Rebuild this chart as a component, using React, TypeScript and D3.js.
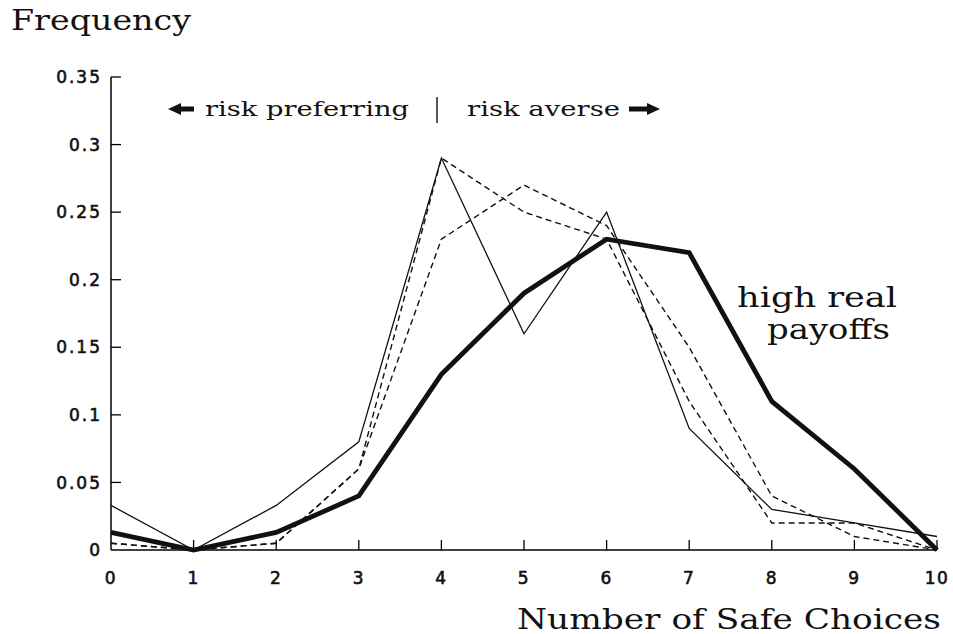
import React from "react"
import * as d3 from "d3"

// number of safe choices (0..10)
const choices = [0, 1, 2, 3, 4, 5, 6, 7, 8, 9, 10]

// frequencies
const highReal = [0.013, 0, 0.013, 0.04, 0.13, 0.19, 0.23, 0.22, 0.11, 0.06, 0]
const thinSolid = [0.033, 0, 0.033, 0.08, 0.29, 0.16, 0.25, 0.09, 0.03, 0.02, 0.01]
const dashedA = [0.005, 0, 0.005, 0.06, 0.29, 0.25, 0.23, 0.11, 0.02, 0.02, 0]
const dashedB = [0.005, 0, 0.005, 0.06, 0.23, 0.27, 0.24, 0.15, 0.04, 0.01, 0]

const yTicks = [0, 0.05, 0.1, 0.15, 0.2, 0.25, 0.3, 0.35]
const yTickLabels = ["0", "0.05", "0.1", "0.15", "0.2", "0.25", "0.3", "0.35"]

const W = 953
const H = 634
const serif = "'DejaVu Serif', serif"
const sans = "'DejaVu Sans', sans-serif"

export default function App() {
  const x = d3.scaleLinear().domain([0, 10]).range([111, 937])
  const y = d3.scaleLinear().domain([0, 0.35]).range([550, 77])

  const line = d3.line<number>()
    .x((_, i) => x(choices[i]))
    .y(d => y(d))

  const series = [
    { values: dashedB, width: 1.4, dash: "6,4" },
    { values: dashedA, width: 1.4, dash: "6,4" },
    { values: thinSolid, width: 1.3, dash: null },
    { values: highReal, width: 4.8, dash: null },
  ]

  const arrowY = 109
  const tickStyle = { fontFamily: sans, fontSize: 17, fill: "#111", stroke: "#111", strokeWidth: 0.6 }

  return (
    <svg width={W} height={H} style={{ position: "absolute", left: 0, top: 0, background: "#fff" }}>
      {/* axes */}
      <line x1={x(0)} x2={x(0)} y1={y(0.35)} y2={y(0)} stroke="#000" strokeWidth={1.5} />
      <line x1={x(0)} x2={x(10)} y1={y(0)} y2={y(0)} stroke="#000" strokeWidth={1.5} />

      {yTicks.map((t, i) => (
        <g key={"y" + i}>
          {t > 0 && <line x1={x(0)} x2={x(0) + 10} y1={y(t)} y2={y(t)} stroke="#000" strokeWidth={1.3} />}
          <text x={102} y={y(t)} dy="0.36em" textAnchor="end" letterSpacing={2} {...tickStyle}>
            {yTickLabels[i]}
          </text>
        </g>
      ))}

      {choices.map(c => (
        <g key={"x" + c}>
          {c > 0 && <line x1={x(c)} x2={x(c)} y1={y(0)} y2={y(0) - 10} stroke="#000" strokeWidth={1.3} />}
          <text x={x(c)} y={584} textAnchor="middle" letterSpacing={1.5} {...tickStyle}>{c}</text>
        </g>
      ))}

      {/* series */}
      {series.map((s, i) => (
        <path key={i} d={line(s.values) || ""} fill="none" stroke="#111" strokeWidth={s.width}
          strokeDasharray={s.dash || undefined} strokeLinejoin="miter" />
      ))}

      {/* titles */}
      <text x={11} y={30} fontFamily={serif} fontSize={27} textLength={180}
        lengthAdjust="spacingAndGlyphs" fill="#111">Frequency</text>
      <text x={517} y={629} fontFamily={serif} fontSize={27} textLength={424}
        lengthAdjust="spacingAndGlyphs" fill="#111">Number of Safe Choices</text>

      {/* annotation */}
      <text x={737} y={307} fontFamily={serif} fontSize={27} textLength={160}
        lengthAdjust="spacingAndGlyphs" fill="#111">high real</text>
      <text x={767} y={339} fontFamily={serif} fontSize={27} textLength={123}
        lengthAdjust="spacingAndGlyphs" fill="#111">payoffs</text>

      {/* risk preference header */}
      <path d={`M168,${arrowY} L181,${arrowY - 6} L181,${arrowY - 2.5} L194,${arrowY - 2.5} L194,${arrowY + 2.5} L181,${arrowY + 2.5} L181,${arrowY + 6} Z`} fill="#111" />
      <text x={205} y={116} fontFamily={serif} fontSize={21} textLength={204}
        lengthAdjust="spacingAndGlyphs" fill="#111">risk preferring</text>
      <line x1={437} x2={437} y1={97} y2={123} stroke="#111" strokeWidth={1.4} />
      <text x={467} y={116} fontFamily={serif} fontSize={21} textLength={153}
        lengthAdjust="spacingAndGlyphs" fill="#111">risk averse</text>
      <path d={`M660,${arrowY} L647,${arrowY - 6} L647,${arrowY - 2.5} L629,${arrowY - 2.5} L629,${arrowY + 2.5} L647,${arrowY + 2.5} L647,${arrowY + 6} Z`} fill="#111" />
    </svg>
  )
}
